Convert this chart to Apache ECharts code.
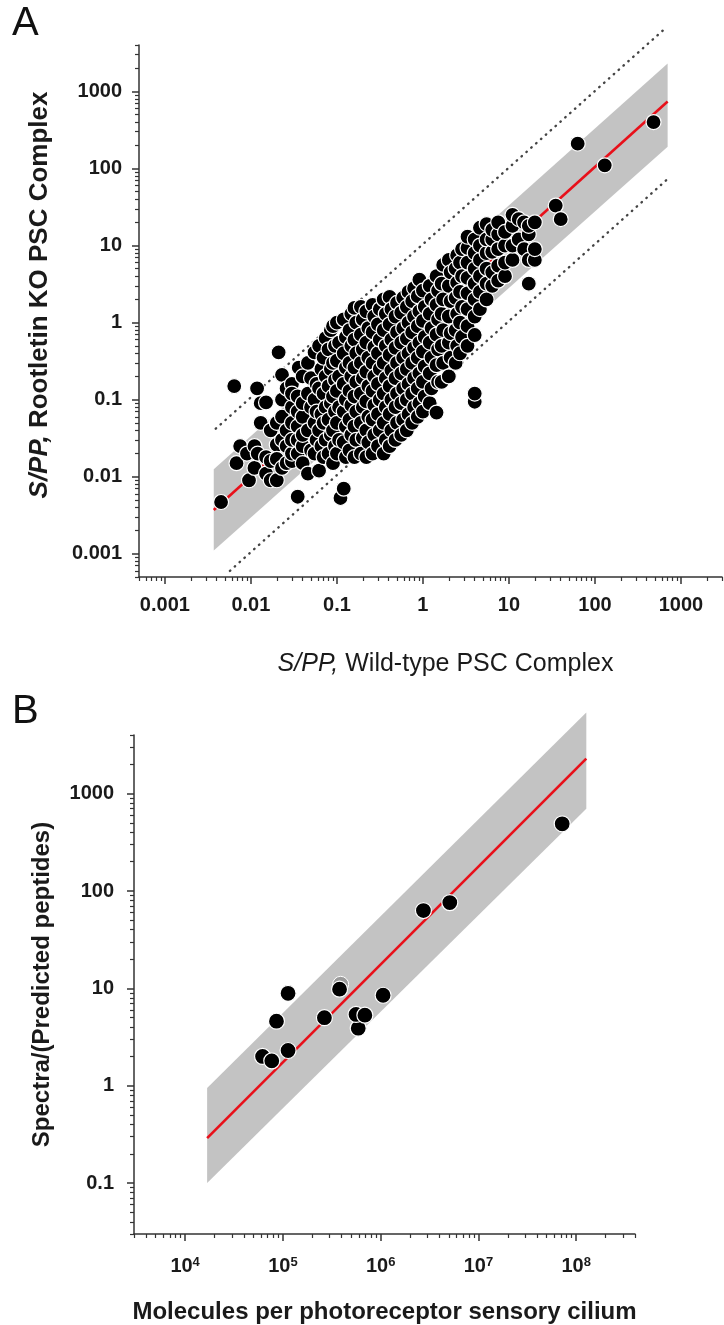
<!DOCTYPE html>
<html>
<head>
<meta charset="utf-8">
<script src="https://cdn.jsdelivr.net/npm/echarts@6/dist/echarts.min.js"></script>
<style>
html, body { margin: 0; padding: 0; background: #fff; }
#main { width: 724px; height: 1325px; }
</style>
</head>
<body>
<div id="main"></div>
<script>
// ---- Panel A: S/PP wild-type (x) vs Rootletin KO (y) ----
// each row: [wild-type S/PP, KO S/PP values...]
var pscColumns = [
    [0.0045, 0.0047], [0.0064, 0.15], [0.0068, 0.015], [0.0075, 0.025], [0.009, 0.02], [0.0095, 0.009],
    [0.011, 0.013, 0.025], [0.0118, 0.14], [0.012, 0.02], [0.013, 0.05, 0.09],
    [0.015, 0.092, 0.011, 0.018], [0.017, 0.009, 0.016, 0.04],
    [0.02, 0.009, 0.026, 0.017, 0.05], [0.021, 0.41],
    [0.023, 0.21, 0.013, 0.03, 0.06, 0.1], [0.026, 0.015, 0.04, 0.14, 0.025],
    [0.03, 0.016, 0.02, 0.05, 0.16, 0.08, 0.03, 0.12],
    [0.035, 0.0055, 0.02, 0.045, 0.07, 0.11, 0.03], [0.036, 0.26],
    [0.04, 0.015, 0.025, 0.035, 0.06, 0.09, 0.2],
    [0.046, 0.011, 0.04, 0.12, 0.3], [0.05, 0.022, 0.08, 0.19],
    [0.055, 0.02, 0.05, 0.1, 0.41], [0.058, 0.03, 0.07, 0.16],
    [0.062, 0.012, 0.04, 0.14, 0.5], [0.066, 0.025, 0.065, 0.25],
    [0.07, 0.018, 0.05, 0.12, 0.35], [0.074, 0.03, 0.08, 0.2, 0.63],
    [0.08, 0.02, 0.055, 0.15, 0.45], [0.085, 0.035, 0.09, 0.25, 0.8],
    [0.09, 0.015, 0.04, 0.11, 0.3, 0.9], [0.095, 0.025, 0.07, 0.18, 0.5],
    [0.1, 0.02, 0.05, 0.13, 0.32, 1.0], [0.106, 0.03, 0.08, 0.2, 0.55],
    [0.11, 0.0053],
    [0.12, 0.007, 0.028, 0.07, 0.16, 0.4, 1.1], [0.127, 0.018, 0.045, 0.1, 0.26, 0.65],
    [0.14, 0.022, 0.055, 0.13, 0.3, 0.8], [0.147, 0.035, 0.085, 0.2, 0.5, 1.3],
    [0.16, 0.018, 0.045, 0.11, 0.26, 0.6, 1.55], [0.168, 0.03, 0.07, 0.17, 0.4, 1.0],
    [0.19, 0.02, 0.05, 0.12, 0.3, 0.7, 1.6], [0.2, 0.032, 0.08, 0.19, 0.45, 1.1],
    [0.22, 0.018, 0.04, 0.095, 0.23, 0.55, 1.4], [0.232, 0.028, 0.06, 0.15, 0.35, 0.85],
    [0.26, 0.02, 0.055, 0.13, 0.3, 0.75, 1.7], [0.272, 0.035, 0.085, 0.2, 0.48, 1.2],
    [0.3, 0.025, 0.065, 0.16, 0.4, 0.95], [0.315, 0.04, 0.1, 0.25, 0.6, 1.5],
    [0.35, 0.02, 0.05, 0.12, 0.3, 0.8, 2.0], [0.37, 0.03, 0.08, 0.19, 0.5, 1.3],
    [0.41, 0.025, 0.065, 0.15, 0.38, 0.95, 2.15], [0.43, 0.04, 0.1, 0.24, 0.6, 1.5],
    [0.48, 0.03, 0.08, 0.19, 0.47, 1.2], [0.5, 0.05, 0.12, 0.3, 0.75, 1.8],
    [0.56, 0.035, 0.09, 0.22, 0.55, 1.35], [0.59, 0.055, 0.14, 0.35, 0.85, 2.1],
    [0.65, 0.04, 0.1, 0.25, 0.62, 1.6], [0.68, 0.065, 0.16, 0.4, 1.0, 2.5],
    [0.75, 0.05, 0.12, 0.3, 0.75, 1.9], [0.79, 0.08, 0.19, 0.47, 1.2, 2.8],
    [0.87, 0.06, 0.14, 0.35, 0.9, 2.2], [0.91, 0.09, 0.22, 0.55, 1.4, 3.6],
    [1.0, 0.07, 0.17, 0.42, 1.05, 2.6], [1.05, 0.11, 0.27, 0.65, 1.6],
    [1.2, 0.09, 0.22, 0.55, 1.3, 3.0], [1.26, 0.14, 0.35, 0.85, 2.0],
    [1.44, 0.068, 0.28, 0.7, 1.7, 4.0], [1.5, 0.17, 0.45, 1.1, 2.6],
    [1.65, 0.17, 0.5, 1.3, 3.2], [1.72, 0.3, 0.8, 2.0, 5.6],
    [2.0, 0.2, 0.55, 1.2, 3.0, 6.5], [2.1, 0.35, 0.73, 1.9, 4.5],
    [2.4, 0.3, 0.8, 2.1, 5.0], [2.5, 0.5, 1.3, 3.3, 7.5],
    [2.7, 0.4, 1.0, 2.5, 6.0], [2.85, 0.65, 1.6, 4.0, 9.0],
    [3.3, 0.5, 0.9, 1.5, 2.4, 3.8, 6, 9.3, 13],
    [4.0, 0.094, 0.12, 0.69, 1.2, 2.0, 3.2, 5, 8, 12],
    [4.6, 1.5, 2.5, 4, 6.5, 10, 17],
    [5.5, 2.0, 3.2, 5, 8, 12, 19],
    [6.4, 3, 4.5, 8.3, 12, 16],
    [7.5, 3.5, 5.5, 9, 14, 20],
    [9, 4, 6, 10, 15],
    [11, 6.5, 10, 18, 25],
    [13, 12, 22],
    [15, 9, 20],
    [17, 3.2, 6.5, 14, 18],
    [20, 6.5, 9, 20],
    [35, 33], [40, 22], [63, 210], [130, 110], [480, 400]
];
var pscFitX = [0.0037, 700];
var pscFitY = [0.0037, 740];
var pscBandLow = [0.0011, 192];
var pscBandHigh = [0.0125, 2300];
var pscUpperDotX = [0.0039, 690];
var pscUpperDotY = [0.042, 6900];
var pscLowerDotX = [0.0057, 690];
var pscLowerDotY = [0.0006, 72];
var aDecades = [0.001, 0.01, 0.1, 1, 10, 100, 1000];
var aDecadeLabels = ['0.001', '0.01', '0.1', '1', '10', '100', '1000'];

// ---- Panel B: molecules per cilium (x) vs spectra/predicted peptides (y) ----
var cilMolecules = [6.2e4, 7.7e4, 8.6e4, 1.13e5, 1.13e5, 2.66e5, 3.8e5, 5.9e5, 5.6e5, 6.9e5, 1.06e6, 2.74e6, 5.1e6, 7.2e7];
var cilSpectra = [2.0, 1.8, 4.6, 8.9, 2.3, 5.0, 9.8, 3.9, 5.4, 5.3, 8.5, 63, 76, 490];
var cilGhostMolecules = [3.9e5];
var cilGhostSpectra = [11];
var cilFitX = [1.68e4, 1.27e8];
var cilFitY = [0.29, 2290];
var cilBandLow = [0.1, 700];
var cilBandHigh = [0.95, 6800];
var bYDecades = [0.1, 1, 10, 100, 1000];
var bYLabels = ['0.1', '1', '10', '100', '1000'];
var bXDecades = [1e4, 1e5, 1e6, 1e7, 1e8];
var bXLabels = ['10{s|4}', '10{s|5}', '10{s|6}', '10{s|7}', '10{s|8}'];

var FONT = '"Liberation Sans", Arial, Helvetica, sans-serif';
var AXIS_COLOR = '#333';
var TEXT_COLOR = '#1a1a1a';

function lg(v) { return Math.log10(v); }

function minorTicks(lo, hi) {
    var out = [];
    for (var d = -5; d <= 9; d++) {
        for (var k = 2; k <= 9; k++) {
            var v = k * Math.pow(10, d);
            if (v >= lo * 0.999 && v <= hi * 1.001) out.push(lg(v));
        }
    }
    return out;
}

function labelFor(decades, labels) {
    return function (v) {
        for (var i = 0; i < decades.length; i++) {
            if (Math.abs(lg(decades[i]) - v) < 1e-6) return labels[i];
        }
        return '';
    };
}

function mainAxis(grid, pos, lo, hi, decades, labels, margin, extra) {
    var ax = {
        type: 'value', gridIndex: grid, position: pos,
        min: lg(lo), max: lg(hi),
        splitLine: { show: false },
        axisLine: { show: true, onZero: false, lineStyle: { color: AXIS_COLOR, width: 1.5 } },
        axisTick: { show: true, inside: false, length: 7, customValues: decades.map(lg),
                    lineStyle: { color: AXIS_COLOR, width: 1.5 } },
        axisLabel: { customValues: decades.map(lg), formatter: labelFor(decades, labels),
                     fontFamily: FONT, fontSize: 20, fontWeight: 'bold', color: TEXT_COLOR, margin: margin,
                     rich: { s: { fontFamily: FONT, fontSize: 13, fontWeight: 'bold', color: TEXT_COLOR,
                                  verticalAlign: 'top', lineHeight: 13 } } }
    };
    for (var k in extra) ax[k] = extra[k];
    return ax;
}

function minorAxis(grid, pos, lo, hi) {
    return {
        type: 'value', gridIndex: grid, position: pos,
        min: lg(lo), max: lg(hi),
        splitLine: { show: false },
        axisLine: { show: false, onZero: false },
        axisLabel: { show: false },
        axisTick: { show: true, inside: false, length: 4, customValues: minorTicks(lo, hi),
                    lineStyle: { color: AXIS_COLOR, width: 1.2 } }
    };
}

function bandSeries(xi, yi, bx, blo, bhi) {
    return {
        type: 'custom', xAxisIndex: xi, yAxisIndex: yi, z: 1, silent: true,
        data: [0],
        renderItem: function (params, api) {
            var pts = [];
            for (var i = 0; i < bx.length; i++) pts.push(api.coord([lg(bx[i]), lg(blo[i])]));
            for (var j = bx.length - 1; j >= 0; j--) pts.push(api.coord([lg(bx[j]), lg(bhi[j])]));
            return { type: 'polygon', shape: { points: pts }, style: { fill: '#c3c3c3' } };
        }
    };
}

function lineSeries(xi, yi, xs, ys, style, z) {
    return {
        type: 'line', xAxisIndex: xi, yAxisIndex: yi, z: z, silent: true, clip: false,
        symbol: 'none', data: xs.map(function (x, i) { return [lg(x), lg(ys[i])]; }),
        lineStyle: style
    };
}

var pscData = [];
pscColumns.forEach(function (row) {
    for (var i = 1; i < row.length; i++) pscData.push([lg(row[0]), lg(row[i])]);
});

var chart = echarts.init(document.getElementById('main'), null, { renderer: 'canvas' });

var option = {
    animation: false,
    backgroundColor: '#fff',
    grid: [
        { left: 139, top: 45, width: 583, height: 532 },
        { left: 134, top: 735, width: 501, height: 499 }
    ],
    xAxis: [
        mainAxis(0, 'bottom', 0.0005, 3000, aDecades, aDecadeLabels, 18, {
            name: '{i|S/PP,} Wild-type PSC Complex', nameLocation: 'middle', nameGap: 75,
            nameTextStyle: { fontFamily: FONT, fontSize: 25, color: TEXT_COLOR, padding: [0, 0, 0, 30],
                             rich: { i: { fontFamily: FONT, fontSize: 25, fontStyle: 'italic', color: TEXT_COLOR } } }
        }),
        minorAxis(0, 'bottom', 0.0005, 3000),
        mainAxis(1, 'bottom', 3000, 4e8, bXDecades, bXLabels, 22, {
            name: 'Molecules per photoreceptor sensory cilium', nameLocation: 'middle', nameGap: 66,
            nameTextStyle: { fontFamily: FONT, fontSize: 24, fontWeight: 'bold', color: TEXT_COLOR }
        }),
        minorAxis(1, 'bottom', 3000, 4e8)
    ],
    yAxis: [
        mainAxis(0, 'left', 0.0005, 4000, aDecades, aDecadeLabels, 17, {
            name: '{i|S/PP,} Rootletin KO PSC Complex', nameLocation: 'middle', nameGap: 86,
            nameTextStyle: { fontFamily: FONT, fontSize: 26, fontWeight: 'bold', color: TEXT_COLOR, padding: [0, 0, 0, 32],
                             rich: { i: { fontFamily: FONT, fontSize: 26, fontStyle: 'italic', fontWeight: 'bold', color: TEXT_COLOR } } }
        }),
        minorAxis(0, 'left', 0.0005, 4000),
        mainAxis(1, 'left', 0.03, 4000, bYDecades, bYLabels, 20, {
            name: 'Spectra/(Predicted peptides)', nameLocation: 'middle', nameGap: 80,
            nameTextStyle: { fontFamily: FONT, fontSize: 24, fontWeight: 'bold', color: TEXT_COLOR }
        }),
        minorAxis(1, 'left', 0.03, 4000)
    ],
    graphic: [
        { type: 'text', left: 12, top: 4, style: { text: 'A', font: '40px ' + FONT, fill: '#111' } },
        { type: 'text', left: 12, top: 692, style: { text: 'B', font: '40px ' + FONT, fill: '#111' } }
    ],
    series: [
        bandSeries(0, 0, pscFitX, pscBandLow, pscBandHigh),
        lineSeries(0, 0, pscUpperDotX, pscUpperDotY, { color: '#444', width: 2.4, type: [0.5, 6], cap: 'round' }, 2),
        lineSeries(0, 0, pscLowerDotX, pscLowerDotY, { color: '#444', width: 2.4, type: [0.5, 6], cap: 'round' }, 2),
        lineSeries(0, 0, pscFitX, pscFitY, { color: '#e8101a', width: 2.6 }, 3),
        {
            type: 'scatter', xAxisIndex: 0, yAxisIndex: 0, z: 5, silent: true,
            symbol: 'circle', symbolSize: 15, data: pscData,
            itemStyle: { color: '#000', borderColor: '#fff', borderWidth: 1.2, opacity: 1 }
        },
        bandSeries(2, 2, cilFitX, cilBandLow, cilBandHigh),
        lineSeries(2, 2, cilFitX, cilFitY, { color: '#e8101a', width: 2.6 }, 3),
        {
            type: 'scatter', xAxisIndex: 2, yAxisIndex: 2, z: 4, silent: true,
            symbol: 'circle', symbolSize: 16,
            data: cilGhostMolecules.map(function (x, i) { return [lg(x), lg(cilGhostSpectra[i])]; }),
            itemStyle: { color: '#9a9a9a', borderColor: '#fff', borderWidth: 1, opacity: 1 }
        },
        {
            type: 'scatter', xAxisIndex: 2, yAxisIndex: 2, z: 5, silent: true,
            symbol: 'circle', symbolSize: 16,
            data: cilMolecules.map(function (x, i) { return [lg(x), lg(cilSpectra[i])]; }),
            itemStyle: { color: '#000', borderColor: '#fff', borderWidth: 1.2, opacity: 1 }
        }
    ]
};

chart.setOption(option);
</script>
</body>
</html>
